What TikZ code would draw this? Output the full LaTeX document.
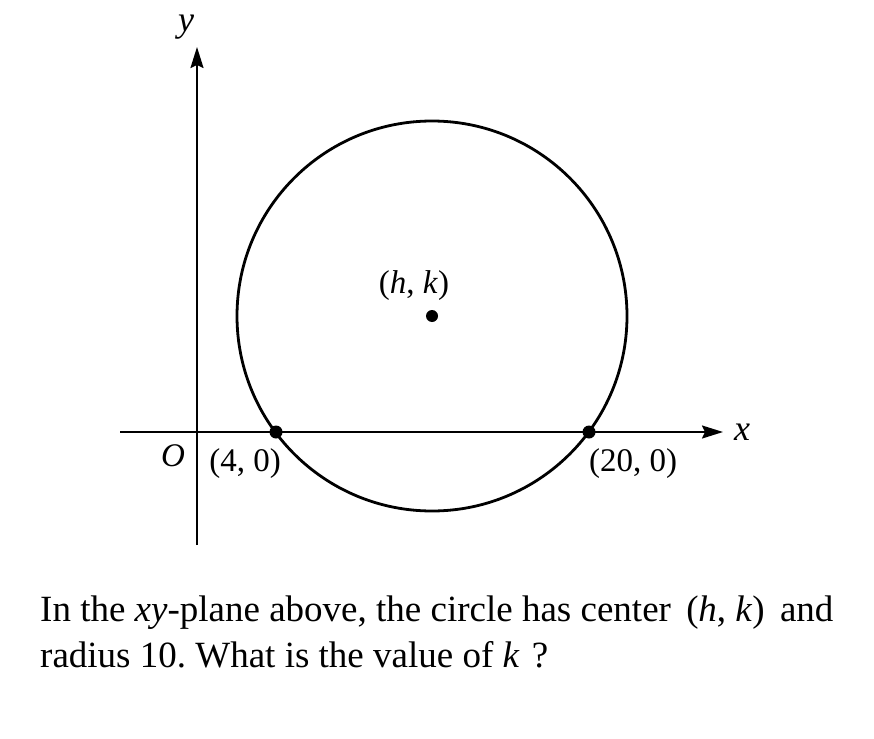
\documentclass[tikz,border=0pt]{standalone}
\usepackage{fontspec}
\setmainfont{Liberation Serif}
\usetikzlibrary{arrows.meta}
\frenchspacing
\begin{document}
\begin{tikzpicture}[x=1pt,y=-1pt,
  axis/.style={line width=1.9pt,-{Stealth[length=21pt,width=13pt,inset=3pt]}},
  curve/.style={line width=2.8pt},
  dot/.style={circle,fill=black,inner sep=0pt,minimum size=13pt},
  lbl/.style={font=\fontsize{33}{38}\selectfont,inner sep=0pt},
  body/.style={font=\fontsize{37}{42}\selectfont,inner sep=0pt,anchor=base west}]
\path[use as bounding box,fill=white] (0,0) rectangle (874,738);
% axes
\coordinate (xl) at (120,432);
\coordinate (xr) at (723,432);
\coordinate (yb) at (197,545);
\coordinate (yt) at (197,47);
\draw[axis] (xl) -- (xr);
\draw[axis] (yb) -- (yt);
% circle
\coordinate (c) at (432,316);
\draw[curve] (c) circle[radius=195];
\node[dot] (p1) at (276,432) {};
\node[dot] (p2) at (589,432) {};
\node[dot,minimum size=12pt] (ctr) at (c) {};
% labels
\node[lbl,font=\fontsize{36}{40}\selectfont] (ly) at (186,27) {\itshape y};
\node[lbl,font=\fontsize{36}{40}\selectfont] (lx) at (742,432) {\itshape x};
\node[lbl] (lo) at (173,456) {\itshape O};
\node[lbl] (l1) at (245,464) {(4, 0)};
\node[lbl] (l2) at (633,464) {(20, 0)};
\node[lbl] (lc) at (414,286) {(\textit{h}, \textit{k})};
% text
\node[body] (t1) at (40,621.5) {In the \textit{xy}-plane above, the circle has center\hspace{6pt} (\textit{h}, \textit{k})\hspace{6pt} and};
\node[body] (t2) at (40,667) {radius 10. What is the value of \textit{k}\hspace{3pt} ?};
\end{tikzpicture}
\end{document}
